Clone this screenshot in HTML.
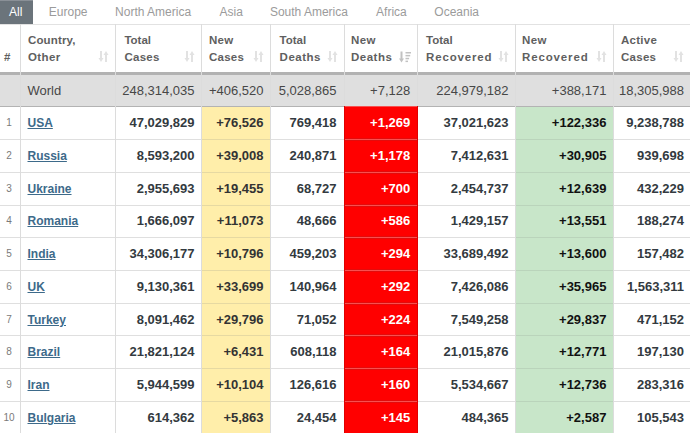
<!DOCTYPE html><html><head><meta charset="utf-8"><style>
html,body{margin:0;padding:0;background:#fff;}
body{width:690px;height:433px;overflow:hidden;position:relative;font-family:"Liberation Sans",sans-serif;}
div{position:absolute;box-sizing:border-box;}
.tab{top:0;height:24px;line-height:24px;font-size:12px;color:#9b9b9b;white-space:nowrap;}
.vl{width:1px;background:#dcdcdc;}
.hl{height:1px;left:0;width:690px;background:rgba(0,0,0,0.125);}
.hd{font-size:11.5px;font-weight:bold;color:#5f5f5f;line-height:16.7px;white-space:nowrap;}
.num{font-size:13px;font-weight:bold;color:#333a40;text-align:right;white-space:nowrap;}
.wn{font-size:13px;color:#474747;text-align:right;white-space:nowrap;}
.idx{font-size:10px;color:#7a7a7a;text-align:center;white-space:nowrap;}
.cn{font-size:12px;font-weight:bold;color:#3d6a8a;text-decoration:underline;text-decoration-thickness:1.4px;text-underline-offset:1.2px;white-space:nowrap;}
</style></head><body>

<div style="left:0;top:0;width:33px;height:25px;background:#6b747b;"></div>
<div style="left:0;top:0;width:33px;height:1px;background:#8a9097;"></div>
<div class="tab" style="left:9px;top:0px;color:#fff;font-size:12px;">All</div>
<div class="tab" style="left:48.8px;">Europe</div>
<div class="tab" style="left:115.1px;">North America</div>
<div class="tab" style="left:219.5px;">Asia</div>
<div class="tab" style="left:269.9px;">South America</div>
<div class="tab" style="left:376.1px;">Africa</div>
<div class="tab" style="left:434.3px;">Oceania</div>
<div class="hl" style="top:24px;background:#e2e2e2;"></div>
<div style="left:0;top:75px;width:690px;height:31px;background:#dfdfdf;"></div>
<div style="left:201px;top:106px;width:70px;height:330px;background:#ffeeaa;"></div>
<div style="left:344px;top:106px;width:74px;height:330px;background:#ff0000;"></div>
<div style="left:515px;top:106px;width:99px;height:330px;background:#c8e6c9;"></div>
<div style="left:0;top:72px;width:690px;height:3px;background:#b2b2b2;"></div>
<div style="left:0;top:106px;width:690px;height:1px;background:#cdcdcd;"></div>
<div class="hl" style="top:106px;"></div>
<div style="left:345px;top:106px;width:72px;height:1px;background:#f85050;"></div>
<div class="hl" style="top:139px;"></div>
<div style="left:202px;top:139px;width:68px;height:1px;background:#e6d9a2;"></div>
<div style="left:516px;top:139px;width:97px;height:1px;background:#bad4bb;"></div>
<div style="left:345px;top:138px;width:72px;height:3px;background:#e20c0c;"></div>
<div style="left:345px;top:139px;width:72px;height:1px;background:#f85050;"></div>
<div class="hl" style="top:172px;"></div>
<div style="left:202px;top:172px;width:68px;height:1px;background:#e6d9a2;"></div>
<div style="left:516px;top:172px;width:97px;height:1px;background:#bad4bb;"></div>
<div style="left:345px;top:171px;width:72px;height:3px;background:#e20c0c;"></div>
<div style="left:345px;top:172px;width:72px;height:1px;background:#f85050;"></div>
<div class="hl" style="top:205px;"></div>
<div style="left:202px;top:205px;width:68px;height:1px;background:#e6d9a2;"></div>
<div style="left:516px;top:205px;width:97px;height:1px;background:#bad4bb;"></div>
<div style="left:345px;top:204px;width:72px;height:3px;background:#e20c0c;"></div>
<div style="left:345px;top:205px;width:72px;height:1px;background:#f85050;"></div>
<div class="hl" style="top:237px;"></div>
<div style="left:202px;top:237px;width:68px;height:1px;background:#e6d9a2;"></div>
<div style="left:516px;top:237px;width:97px;height:1px;background:#bad4bb;"></div>
<div style="left:345px;top:236px;width:72px;height:3px;background:#e20c0c;"></div>
<div style="left:345px;top:237px;width:72px;height:1px;background:#f85050;"></div>
<div class="hl" style="top:270px;"></div>
<div style="left:202px;top:270px;width:68px;height:1px;background:#e6d9a2;"></div>
<div style="left:516px;top:270px;width:97px;height:1px;background:#bad4bb;"></div>
<div style="left:345px;top:269px;width:72px;height:3px;background:#e20c0c;"></div>
<div style="left:345px;top:270px;width:72px;height:1px;background:#f85050;"></div>
<div class="hl" style="top:303px;"></div>
<div style="left:202px;top:303px;width:68px;height:1px;background:#e6d9a2;"></div>
<div style="left:516px;top:303px;width:97px;height:1px;background:#bad4bb;"></div>
<div style="left:345px;top:302px;width:72px;height:3px;background:#e20c0c;"></div>
<div style="left:345px;top:303px;width:72px;height:1px;background:#f85050;"></div>
<div class="hl" style="top:335px;"></div>
<div style="left:202px;top:335px;width:68px;height:1px;background:#e6d9a2;"></div>
<div style="left:516px;top:335px;width:97px;height:1px;background:#bad4bb;"></div>
<div style="left:345px;top:334px;width:72px;height:3px;background:#e20c0c;"></div>
<div style="left:345px;top:335px;width:72px;height:1px;background:#f85050;"></div>
<div class="hl" style="top:368px;"></div>
<div style="left:202px;top:368px;width:68px;height:1px;background:#e6d9a2;"></div>
<div style="left:516px;top:368px;width:97px;height:1px;background:#bad4bb;"></div>
<div style="left:345px;top:367px;width:72px;height:3px;background:#e20c0c;"></div>
<div style="left:345px;top:368px;width:72px;height:1px;background:#f85050;"></div>
<div class="hl" style="top:401px;"></div>
<div style="left:202px;top:401px;width:68px;height:1px;background:#e6d9a2;"></div>
<div style="left:516px;top:401px;width:97px;height:1px;background:#bad4bb;"></div>
<div style="left:345px;top:400px;width:72px;height:3px;background:#e20c0c;"></div>
<div style="left:345px;top:401px;width:72px;height:1px;background:#f85050;"></div>
<div class="vl" style="left:20px;top:24px;height:410px;"></div>
<div class="vl" style="left:115px;top:24px;height:410px;"></div>
<div class="vl" style="left:201px;top:24px;height:410px;"></div>
<div class="vl" style="left:270px;top:24px;height:410px;"></div>
<div class="vl" style="left:344px;top:24px;height:410px;"></div>
<div class="vl" style="left:417px;top:24px;height:410px;"></div>
<div class="vl" style="left:515px;top:24px;height:410px;"></div>
<div class="vl" style="left:613px;top:24px;height:410px;"></div>
<div style="left:344px;top:106px;width:1px;height:330px;background:#e00000;"></div>
<div style="left:417px;top:106px;width:1px;height:330px;background:#e00000;"></div>
<div class="hd" style="left:4px;top:48.5px;">#</div>
<div class="hd" style="left:28px;top:32.4px;"><span style="letter-spacing:0.14px">Country,</span><br><span style="letter-spacing:0.37px">Other</span></div>
<div class="hd" style="left:124.4px;top:32.4px;"><span style="letter-spacing:0px">Total</span><br><span style="letter-spacing:0.27px">Cases</span></div>
<div class="hd" style="left:208.9px;top:32.4px;"><span style="letter-spacing:0.35px">New</span><br><span style="letter-spacing:0.27px">Cases</span></div>
<div class="hd" style="left:279.6px;top:32.4px;"><span style="letter-spacing:0px">Total</span><br><span style="letter-spacing:0.5px">Deaths</span></div>
<div class="hd" style="left:351px;top:32.4px;"><span style="letter-spacing:0.35px">New</span><br><span style="letter-spacing:0.5px">Deaths</span></div>
<div class="hd" style="left:426px;top:32.4px;"><span style="letter-spacing:0px">Total</span><br><span style="letter-spacing:0.85px">Recovered</span></div>
<div class="hd" style="left:522.1px;top:32.4px;"><span style="letter-spacing:0.35px">New</span><br><span style="letter-spacing:0.85px">Recovered</span></div>
<div class="hd" style="left:621px;top:32.4px;"><span style="letter-spacing:0.28px">Active</span><br><span style="letter-spacing:0.27px">Cases</span></div>
<svg style="position:absolute;left:98px;top:51px" width="11" height="11" viewBox="0 0 11 11"><g fill="#e2e2e2"><rect x="2" y="0" width="2" height="8"/><path d="M0.5 7 L5.5 7 L3 11 Z"/><rect x="7" y="3" width="2" height="8"/><path d="M5.5 4 L10.5 4 L8 0 Z"/></g></svg>
<svg style="position:absolute;left:184px;top:51px" width="11" height="11" viewBox="0 0 11 11"><g fill="#e2e2e2"><rect x="2" y="0" width="2" height="8"/><path d="M0.5 7 L5.5 7 L3 11 Z"/><rect x="7" y="3" width="2" height="8"/><path d="M5.5 4 L10.5 4 L8 0 Z"/></g></svg>
<svg style="position:absolute;left:253px;top:51px" width="11" height="11" viewBox="0 0 11 11"><g fill="#e2e2e2"><rect x="2" y="0" width="2" height="8"/><path d="M0.5 7 L5.5 7 L3 11 Z"/><rect x="7" y="3" width="2" height="8"/><path d="M5.5 4 L10.5 4 L8 0 Z"/></g></svg>
<svg style="position:absolute;left:327px;top:51px" width="11" height="11" viewBox="0 0 11 11"><g fill="#e2e2e2"><rect x="2" y="0" width="2" height="8"/><path d="M0.5 7 L5.5 7 L3 11 Z"/><rect x="7" y="3" width="2" height="8"/><path d="M5.5 4 L10.5 4 L8 0 Z"/></g></svg>
<svg style="position:absolute;left:398px;top:50.5px" width="14" height="12" viewBox="0 0 14 12"><g fill="#c2c2c2"><rect x="2.5" y="0.5" width="2" height="8"/><path d="M1 7.5 L6 7.5 L3.5 11.5 Z"/><rect x="7.5" y="1" width="5.5" height="1.5"/><rect x="7.5" y="3.9" width="4.7" height="1.5"/><rect x="7.5" y="6.8" width="3.6" height="1.5"/><rect x="7.5" y="9.6" width="2.5" height="1.5"/></g></svg>
<svg style="position:absolute;left:498px;top:51px" width="11" height="11" viewBox="0 0 11 11"><g fill="#e2e2e2"><rect x="2" y="0" width="2" height="8"/><path d="M0.5 7 L5.5 7 L3 11 Z"/><rect x="7" y="3" width="2" height="8"/><path d="M5.5 4 L10.5 4 L8 0 Z"/></g></svg>
<svg style="position:absolute;left:596px;top:51px" width="11" height="11" viewBox="0 0 11 11"><g fill="#e2e2e2"><rect x="2" y="0" width="2" height="8"/><path d="M0.5 7 L5.5 7 L3 11 Z"/><rect x="7" y="3" width="2" height="8"/><path d="M5.5 4 L10.5 4 L8 0 Z"/></g></svg>
<svg style="position:absolute;left:673px;top:51px" width="11" height="11" viewBox="0 0 11 11"><g fill="#e2e2e2"><rect x="2" y="0" width="2" height="8"/><path d="M0.5 7 L5.5 7 L3 11 Z"/><rect x="7" y="3" width="2" height="8"/><path d="M5.5 4 L10.5 4 L8 0 Z"/></g></svg>
<div class="wn" style="left:27.5px;text-align:left;top:75px;height:31px;line-height:31px;">World</div>
<div class="wn" style="right:495.5px;top:75px;height:31px;line-height:31px;">248,314,035</div>
<div class="wn" style="right:426.5px;top:75px;height:31px;line-height:31px;">+406,520</div>
<div class="wn" style="right:353.5px;top:75px;height:31px;line-height:31px;">5,028,865</div>
<div class="wn" style="right:279.8px;top:75px;height:31px;line-height:31px;">+7,128</div>
<div class="wn" style="right:181.5px;top:75px;height:31px;line-height:31px;">224,979,182</div>
<div class="wn" style="right:83.6px;top:75px;height:31px;line-height:31px;">+388,171</div>
<div class="wn" style="right:6px;top:75px;height:31px;line-height:31px;">18,305,988</div>
<div class="idx" style="left:0;width:18px;top:106px;height:33px;line-height:33px;">1</div>
<div class="cn" style="left:27.5px;top:107.3px;height:33px;line-height:33px;">USA</div>
<div class="num" style="right:495.5px;top:106px;height:33px;line-height:33px;">47,029,829</div>
<div class="num" style="right:426.5px;top:106px;height:33px;line-height:33px;color:#333;">+76,526</div>
<div class="num" style="right:353.5px;top:106px;height:33px;line-height:33px;">769,418</div>
<div class="num" style="right:279.8px;top:106px;height:33px;line-height:33px;color:#fff;">+1,269</div>
<div class="num" style="right:181.5px;top:106px;height:33px;line-height:33px;">37,021,623</div>
<div class="num" style="right:83.6px;top:106px;height:33px;line-height:33px;color:#111;">+122,336</div>
<div class="num" style="right:6px;top:106px;height:33px;line-height:33px;">9,238,788</div>
<div class="idx" style="left:0;width:18px;top:139px;height:33px;line-height:33px;">2</div>
<div class="cn" style="left:27.5px;top:140.3px;height:33px;line-height:33px;">Russia</div>
<div class="num" style="right:495.5px;top:139px;height:33px;line-height:33px;">8,593,200</div>
<div class="num" style="right:426.5px;top:139px;height:33px;line-height:33px;color:#333;">+39,008</div>
<div class="num" style="right:353.5px;top:139px;height:33px;line-height:33px;">240,871</div>
<div class="num" style="right:279.8px;top:139px;height:33px;line-height:33px;color:#fff;">+1,178</div>
<div class="num" style="right:181.5px;top:139px;height:33px;line-height:33px;">7,412,631</div>
<div class="num" style="right:83.6px;top:139px;height:33px;line-height:33px;color:#111;">+30,905</div>
<div class="num" style="right:6px;top:139px;height:33px;line-height:33px;">939,698</div>
<div class="idx" style="left:0;width:18px;top:172px;height:33px;line-height:33px;">3</div>
<div class="cn" style="left:27.5px;top:173.3px;height:33px;line-height:33px;">Ukraine</div>
<div class="num" style="right:495.5px;top:172px;height:33px;line-height:33px;">2,955,693</div>
<div class="num" style="right:426.5px;top:172px;height:33px;line-height:33px;color:#333;">+19,455</div>
<div class="num" style="right:353.5px;top:172px;height:33px;line-height:33px;">68,727</div>
<div class="num" style="right:279.8px;top:172px;height:33px;line-height:33px;color:#fff;">+700</div>
<div class="num" style="right:181.5px;top:172px;height:33px;line-height:33px;">2,454,737</div>
<div class="num" style="right:83.6px;top:172px;height:33px;line-height:33px;color:#111;">+12,639</div>
<div class="num" style="right:6px;top:172px;height:33px;line-height:33px;">432,229</div>
<div class="idx" style="left:0;width:18px;top:204px;height:33px;line-height:33px;">4</div>
<div class="cn" style="left:27.5px;top:205.3px;height:33px;line-height:33px;">Romania</div>
<div class="num" style="right:495.5px;top:204px;height:33px;line-height:33px;">1,666,097</div>
<div class="num" style="right:426.5px;top:204px;height:33px;line-height:33px;color:#333;">+11,073</div>
<div class="num" style="right:353.5px;top:204px;height:33px;line-height:33px;">48,666</div>
<div class="num" style="right:279.8px;top:204px;height:33px;line-height:33px;color:#fff;">+586</div>
<div class="num" style="right:181.5px;top:204px;height:33px;line-height:33px;">1,429,157</div>
<div class="num" style="right:83.6px;top:204px;height:33px;line-height:33px;color:#111;">+13,551</div>
<div class="num" style="right:6px;top:204px;height:33px;line-height:33px;">188,274</div>
<div class="idx" style="left:0;width:18px;top:237px;height:33px;line-height:33px;">5</div>
<div class="cn" style="left:27.5px;top:238.3px;height:33px;line-height:33px;">India</div>
<div class="num" style="right:495.5px;top:237px;height:33px;line-height:33px;">34,306,177</div>
<div class="num" style="right:426.5px;top:237px;height:33px;line-height:33px;color:#333;">+10,796</div>
<div class="num" style="right:353.5px;top:237px;height:33px;line-height:33px;">459,203</div>
<div class="num" style="right:279.8px;top:237px;height:33px;line-height:33px;color:#fff;">+294</div>
<div class="num" style="right:181.5px;top:237px;height:33px;line-height:33px;">33,689,492</div>
<div class="num" style="right:83.6px;top:237px;height:33px;line-height:33px;color:#111;">+13,600</div>
<div class="num" style="right:6px;top:237px;height:33px;line-height:33px;">157,482</div>
<div class="idx" style="left:0;width:18px;top:270px;height:33px;line-height:33px;">6</div>
<div class="cn" style="left:27.5px;top:271.3px;height:33px;line-height:33px;">UK</div>
<div class="num" style="right:495.5px;top:270px;height:33px;line-height:33px;">9,130,361</div>
<div class="num" style="right:426.5px;top:270px;height:33px;line-height:33px;color:#333;">+33,699</div>
<div class="num" style="right:353.5px;top:270px;height:33px;line-height:33px;">140,964</div>
<div class="num" style="right:279.8px;top:270px;height:33px;line-height:33px;color:#fff;">+292</div>
<div class="num" style="right:181.5px;top:270px;height:33px;line-height:33px;">7,426,086</div>
<div class="num" style="right:83.6px;top:270px;height:33px;line-height:33px;color:#111;">+35,965</div>
<div class="num" style="right:6px;top:270px;height:33px;line-height:33px;">1,563,311</div>
<div class="idx" style="left:0;width:18px;top:303px;height:33px;line-height:33px;">7</div>
<div class="cn" style="left:27.5px;top:304.3px;height:33px;line-height:33px;">Turkey</div>
<div class="num" style="right:495.5px;top:303px;height:33px;line-height:33px;">8,091,462</div>
<div class="num" style="right:426.5px;top:303px;height:33px;line-height:33px;color:#333;">+29,796</div>
<div class="num" style="right:353.5px;top:303px;height:33px;line-height:33px;">71,052</div>
<div class="num" style="right:279.8px;top:303px;height:33px;line-height:33px;color:#fff;">+224</div>
<div class="num" style="right:181.5px;top:303px;height:33px;line-height:33px;">7,549,258</div>
<div class="num" style="right:83.6px;top:303px;height:33px;line-height:33px;color:#111;">+29,837</div>
<div class="num" style="right:6px;top:303px;height:33px;line-height:33px;">471,152</div>
<div class="idx" style="left:0;width:18px;top:335px;height:33px;line-height:33px;">8</div>
<div class="cn" style="left:27.5px;top:336.3px;height:33px;line-height:33px;">Brazil</div>
<div class="num" style="right:495.5px;top:335px;height:33px;line-height:33px;">21,821,124</div>
<div class="num" style="right:426.5px;top:335px;height:33px;line-height:33px;color:#333;">+6,431</div>
<div class="num" style="right:353.5px;top:335px;height:33px;line-height:33px;">608,118</div>
<div class="num" style="right:279.8px;top:335px;height:33px;line-height:33px;color:#fff;">+164</div>
<div class="num" style="right:181.5px;top:335px;height:33px;line-height:33px;">21,015,876</div>
<div class="num" style="right:83.6px;top:335px;height:33px;line-height:33px;color:#111;">+12,771</div>
<div class="num" style="right:6px;top:335px;height:33px;line-height:33px;">197,130</div>
<div class="idx" style="left:0;width:18px;top:368px;height:33px;line-height:33px;">9</div>
<div class="cn" style="left:27.5px;top:369.3px;height:33px;line-height:33px;">Iran</div>
<div class="num" style="right:495.5px;top:368px;height:33px;line-height:33px;">5,944,599</div>
<div class="num" style="right:426.5px;top:368px;height:33px;line-height:33px;color:#333;">+10,104</div>
<div class="num" style="right:353.5px;top:368px;height:33px;line-height:33px;">126,616</div>
<div class="num" style="right:279.8px;top:368px;height:33px;line-height:33px;color:#fff;">+160</div>
<div class="num" style="right:181.5px;top:368px;height:33px;line-height:33px;">5,534,667</div>
<div class="num" style="right:83.6px;top:368px;height:33px;line-height:33px;color:#111;">+12,736</div>
<div class="num" style="right:6px;top:368px;height:33px;line-height:33px;">283,316</div>
<div class="idx" style="left:0;width:18px;top:401px;height:33px;line-height:33px;">10</div>
<div class="cn" style="left:27.5px;top:402.3px;height:33px;line-height:33px;">Bulgaria</div>
<div class="num" style="right:495.5px;top:401px;height:33px;line-height:33px;">614,362</div>
<div class="num" style="right:426.5px;top:401px;height:33px;line-height:33px;color:#333;">+5,863</div>
<div class="num" style="right:353.5px;top:401px;height:33px;line-height:33px;">24,454</div>
<div class="num" style="right:279.8px;top:401px;height:33px;line-height:33px;color:#fff;">+145</div>
<div class="num" style="right:181.5px;top:401px;height:33px;line-height:33px;">484,365</div>
<div class="num" style="right:83.6px;top:401px;height:33px;line-height:33px;color:#111;">+2,587</div>
<div class="num" style="right:6px;top:401px;height:33px;line-height:33px;">105,543</div>
</body></html>
